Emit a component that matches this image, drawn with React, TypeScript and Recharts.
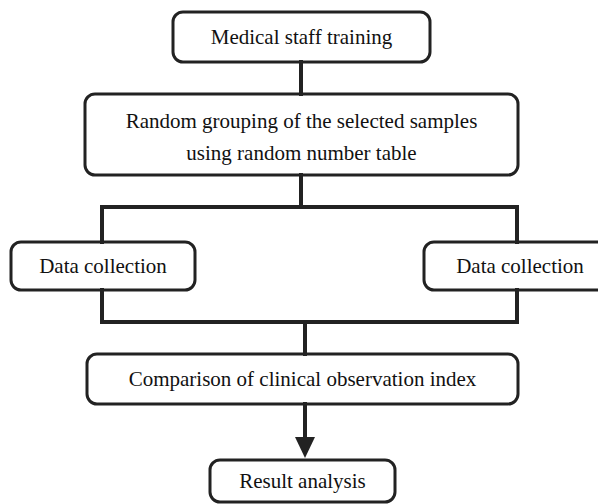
import { ScatterChart, Scatter, XAxis, YAxis, ReferenceArea, ReferenceLine } from "recharts";

// flowchart boxes, in page units (x right, y down)
const boxLabels: string[][] = [
  ["Medical staff training"],
  ["Random grouping of the selected samples", "using random number table"],
  ["Data collection"],
  ["Data collection"],
  ["Comparison of clinical observation index"],
  ["Result analysis"],
];
const boxLeft = [173, 85, 11, 424, 87, 210];
const boxRight = [430, 518, 195, 616, 518, 395];
const boxTop = [12, 94, 242, 242, 354, 460];
const boxBottom = [62, 175, 290, 290, 404, 502];

// connector segments: [x1, y1, x2, y2]
const connectors: number[][] = [
  [301, 62, 301, 94],
  [301, 175, 301, 207],
  [102, 207, 517, 207],
  [102, 207, 102, 242],
  [517, 207, 517, 242],
  [102, 290, 102, 322],
  [517, 290, 517, 322],
  [102, 322, 517, 322],
  [305, 322, 305, 354],
  [305, 404, 305, 438],
];

const arrowTips = [{ x: 305, y: 458 }];

const INK = "#222";
const FONT = '"Liberation Serif", "DejaVu Serif", "Times New Roman", serif';

function Box(props: any) {
  const { x, y, width, height, lines } = props;
  const cx = x + width / 2;
  const cy = y + height / 2;
  const gap = 32;
  return (
    <g>
      <rect x={x} y={y} width={width} height={height} rx={10} ry={10} fill="#fff" stroke={INK} strokeWidth={3} />
      {lines.map((t: string, i: number) => (
        <text
          key={i}
          x={cx}
          y={cy + (i - (lines.length - 1) / 2) * gap + (lines.length > 1 ? 2 : 0)}
          textAnchor="middle"
          dominantBaseline="central"
          style={{ fontFamily: FONT, fontSize: 21 }}
          fill="#111"
        >
          {t}
        </text>
      ))}
    </g>
  );
}

function ArrowHead(props: any) {
  const { cx, cy } = props;
  return <path d={`M${cx},${cy} L${cx - 10},${cy - 21} L${cx + 10},${cy - 21} Z`} fill={INK} />;
}

export default function App() {
  return (
    <div style={{ position: "absolute", left: 0, top: 0, background: "#fff", fontFamily: FONT }}>
      <ScatterChart width={598} height={504} margin={{ top: 0, right: 0, bottom: 0, left: 0 }}>
        <XAxis type="number" dataKey="x" domain={[0, 598]} hide />
        <YAxis type="number" dataKey="y" domain={[0, 504]} reversed hide />
        {connectors.map((c, i) => (
          <ReferenceLine
            key={`c-${i}`}
            segment={[{ x: c[0], y: c[1] }, { x: c[2], y: c[3] }]}
            stroke={INK}
            strokeWidth={4}
            strokeLinecap="square"
            ifOverflow="visible"
          />
        ))}
        {boxLabels.map((lines, i) => (
          <ReferenceArea
            key={`b-${i}`}
            x1={boxLeft[i]}
            x2={boxRight[i]}
            y1={boxTop[i]}
            y2={boxBottom[i]}
            ifOverflow="visible"
            shape={(p: any) => <Box {...p} lines={lines} />}
          />
        ))}
        <Scatter data={arrowTips} shape={ArrowHead} isAnimationActive={false} />
      </ScatterChart>
    </div>
  );
}
